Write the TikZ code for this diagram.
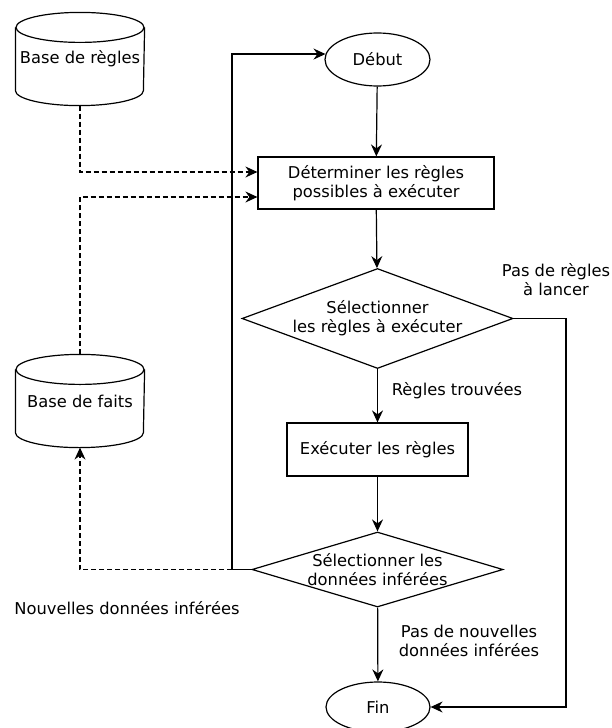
\documentclass[tikz,border=0pt]{standalone}
\usepackage{fontspec}
\setmainfont{DejaVu Sans}
\usetikzlibrary{shapes.geometric,arrows.meta,calc}
\newcommand{\drawcyl}[1]{%
  \draw ($(#1.north west)+(0,-15pt)$) -- ($(#1.south west)+(0,15pt)$)
    arc[start angle=180,end angle=360,x radius=64pt,y radius=15pt]
    -- ($(#1.north east)+(0,-15pt)$);
  \draw ($(#1.north)+(0,-15pt)$) ellipse[x radius=64pt,y radius=15pt];}
\begin{document}
\begin{tikzpicture}[x=1pt,y=-1pt, font=\fontsize{16.3}{19}\selectfont, line width=1.2pt,
  arr/.style={-{Stealth[length=12pt,width=11pt,inset=4pt]}},
  dsh/.style={dash pattern=on 5pt off 3pt},
  proc/.style={draw, rectangle, inner sep=0pt, align=center},
  term/.style={draw, ellipse, inner sep=0pt, minimum width=105pt, minimum height=53pt},
  decision/.style={draw, diamond, inner sep=0pt},
  db/.style={rectangle, inner sep=0pt, minimum width=128pt, minimum height=92pt},
  lbl/.style={align=center, inner sep=0pt}]
\useasboundingbox (0,0) rectangle (612,728);

\node[term] (debut) at (377.5,59.5) {Début};
\node[proc, minimum width=236pt, minimum height=52pt] (det) at (376,183) {Déterminer les règles\\possibles à exécuter};
\node[decision, minimum width=271pt, minimum height=100pt,
  label={[lbl]center:Sélectionner\\les règles à exécuter}] (sel) at (377.5,318.5) {};
\node[proc, minimum width=181pt, minimum height=53pt] (exe) at (377.5,449.5) {Exécuter les règles};
\node[decision, minimum width=251pt, minimum height=75pt,
  label={[lbl]center:Sélectionner les\\données inférées}] (sel2) at (377.5,569.5) {};
\node[term, minimum width=104pt, minimum height=50pt] (fin) at (378,707) {Fin};

\node[db] (br) at (80,59) {Base de règles};
\node[db] (bf) at (80,401) {Base de faits};
\drawcyl{br}
\drawcyl{bf}

\node[lbl] (l1) at (556,280) {Pas de règles\\à lancer};
\node[lbl] (l2) at (457,391) {Règles trouvées};
\node[lbl] (l3) at (127,608) {Nouvelles données inférées};
\node[lbl] (l4) at (469,641) {Pas de nouvelles\\données inférées};

\coordinate (j) at (232,569.5);
\coordinate (r) at (566,640);

\draw[dsh, arr] (br.south) |- ([yshift=11pt]det.west);
\draw[dsh, arr] (bf.north) |- ([yshift=-14pt]det.west);
\draw[arr] (debut) -- (det);
\draw[arr] (det) -- (sel);
\draw[arr] (sel) -- (exe);
\draw[arr] (exe) -- (sel2);
\draw[arr] (sel2) -- (fin);
\draw[arr] (sel2.west) -- (j) |- (debut.174);
\draw[dsh, arr] (j) -| (bf.south);
\draw[arr] (sel.east) -| (r) |- (fin.east);
\end{tikzpicture}
\end{document}
